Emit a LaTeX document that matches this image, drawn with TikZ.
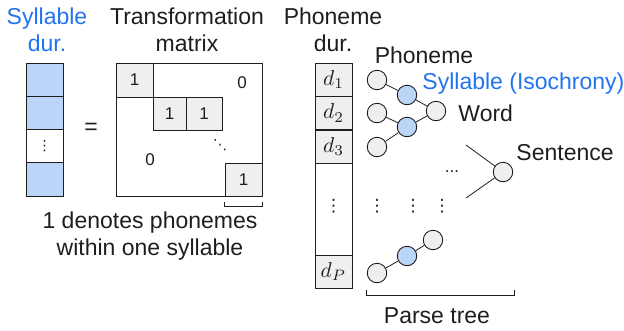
\documentclass[tikz,border=0pt]{standalone}
\usepackage{graphicx}
\usepackage{fontspec}
\setmainfont{Liberation Sans}
\newfontfamily\dejavu{DejaVu Sans}
\definecolor{ablue}{RGB}{33,116,236}
\definecolor{lblue}{RGB}{186,213,247}
\definecolor{lgray}{RGB}{239,239,239}
\definecolor{ink}{RGB}{30,30,30}
\newcommand{\dlab}[1]{\scalebox{2.15}{$d_{#1}$}}
\begin{document}
\begin{tikzpicture}[x=1pt,y=-1pt,line width=0.9pt,color=ink,
  lbl/.style={font=\fontsize{23}{27}\selectfont,align=center,inner sep=0,text=ink},
  bluelbl/.style={lbl,text=ablue},
  sylcell/.style={draw,fill=lblue,minimum width=37,minimum height=33.25,inner sep=0},
  wcell/.style={draw,fill=white,minimum width=37,minimum height=33.25,inner sep=0},
  mcell/.style={draw,fill=lgray,font=\fontsize{17}{20}\selectfont,inner sep=0},
  dcell/.style={draw,fill=lgray,minimum width=37,minimum height=33,inner sep=0,font=\normalsize},
  zero/.style={font=\fontsize{17}{20}\selectfont,inner sep=0},
  vdot/.style={font=\dejavu\fontsize{17}{20}\selectfont,inner sep=0},
  tnode/.style={circle,draw,fill=lgray,minimum size=19.5,inner sep=0},
  bnode/.style={tnode,fill=lblue},
  edge/.style={line width=0.8pt}]
\useasboundingbox (0,0) rectangle (624,330);

% headers
\node[bluelbl] (hsyl) at (47,30) {Syllable\\dur.};
\node[lbl] (htm) at (187,30) {Transformation\\matrix};
\node[lbl] (hph) at (333,30) {Phoneme\\dur.};

% syllable duration column
\node[sylcell] (s1) at (44.5,79.6) {};
\node[sylcell] (s2) at (44.5,112.9) {};
\node[wcell] (s3) at (44.5,146.1) {};
\node[sylcell] (s4) at (44.5,179.4) {};
\node[vdot,font=\dejavu\fontsize{14}{16}\selectfont] (s3d) at (s3) {⋮};

\node[lbl] (eq) at (91,129) {=};

% matrix
\node[draw,minimum width=146,minimum height=133,inner sep=0] (mat) at (189,129.5) {};
\node[mcell,minimum width=37,minimum height=34] (m11) at (134.5,80) {1};
\node[mcell,minimum width=33,minimum height=33] (m22) at (169.5,113.5) {1};
\node[mcell,minimum width=36,minimum height=33] (m23) at (204,113.5) {1};
\node[mcell,minimum width=37,minimum height=33] (mPP) at (243.5,179.5) {1};
\node[zero] (z1) at (242,83) {0};
\node[zero] (z2) at (150,160) {0};
\node[vdot,font=\dejavu\fontsize{14}{16}\selectfont] (dd) at (220,145) {⋱};
\draw[edge] ([yshift=-6pt]mPP.south west) -- ([yshift=-10pt]mPP.south west) -- ([yshift=-10pt]mPP.south east) -- ([yshift=-6pt]mPP.south east);
\node[lbl] (note) at (150,236) {1 denotes phonemes\\within one syllable};

% phoneme duration column
\node[draw,minimum width=37,minimum height=225,inner sep=0] (pcol) at (333.5,175.5) {};
\node[dcell] (d1) at (333.5,79.5) {\dlab{1}};
\node[dcell] (d2) at (333.5,113) {\dlab{2}};
\node[dcell] (d3) at (333.5,146.5) {\dlab{3}};
\node[dcell] (dP) at (333.5,271.5) {\dlab{P}};
\node[vdot] (pd) at (333.5,206) {⋮};

% parse tree
\node[tnode] (p1) at (377,80) {};
\node[tnode] (p2) at (377,113) {};
\node[tnode] (p3) at (377,147) {};
\node[bnode] (y1) at (407,95) {};
\node[bnode] (y2) at (407,127) {};
\node[tnode] (w1) at (436,111) {};
\node[tnode] (sn) at (503,172) {};
\coordinate (st) at (466,145);
\coordinate (sb) at (466,198);
\node[tnode] (q1) at (377,273) {};
\node[bnode] (q2) at (407,256) {};
\node[tnode] (q3) at (433,240) {};
\draw[edge] (p1) -- (y1);
\draw[edge] (p2) -- (y2);
\draw[edge] (p3) -- (y2);
\draw[edge] (y1) -- (w1);
\draw[edge] (y2) -- (w1);
\draw[edge] (st) -- (sn);
\draw[edge] (sb) -- (sn);
\draw[edge] (q1) -- (q2);
\draw[edge] (q2) -- (q3);
\node[zero] (hd) at (452,172) {...};
\node[vdot] (v1) at (377,206) {⋮};
\node[vdot] (v2) at (413,206) {⋮};
\node[vdot] (v3) at (442,206) {⋮};

\node[lbl,anchor=center] (lph) at (424,55) {Phoneme};
\node[bluelbl,anchor=west] (lsy) at (422,84) {Syllable (Isochrony)};
\node[lbl,anchor=west] (lw) at (458,113) {Word};
\node[lbl,anchor=west] (ls) at (516,153) {Sentence};

\coordinate (b1) at (366,290);
\coordinate (b2) at (514,290);
\draw[edge] (b1) -- ++(0,5) -| (b2);
\node[lbl] (lpt) at (437,316) {Parse tree};
\end{tikzpicture}
\end{document}
